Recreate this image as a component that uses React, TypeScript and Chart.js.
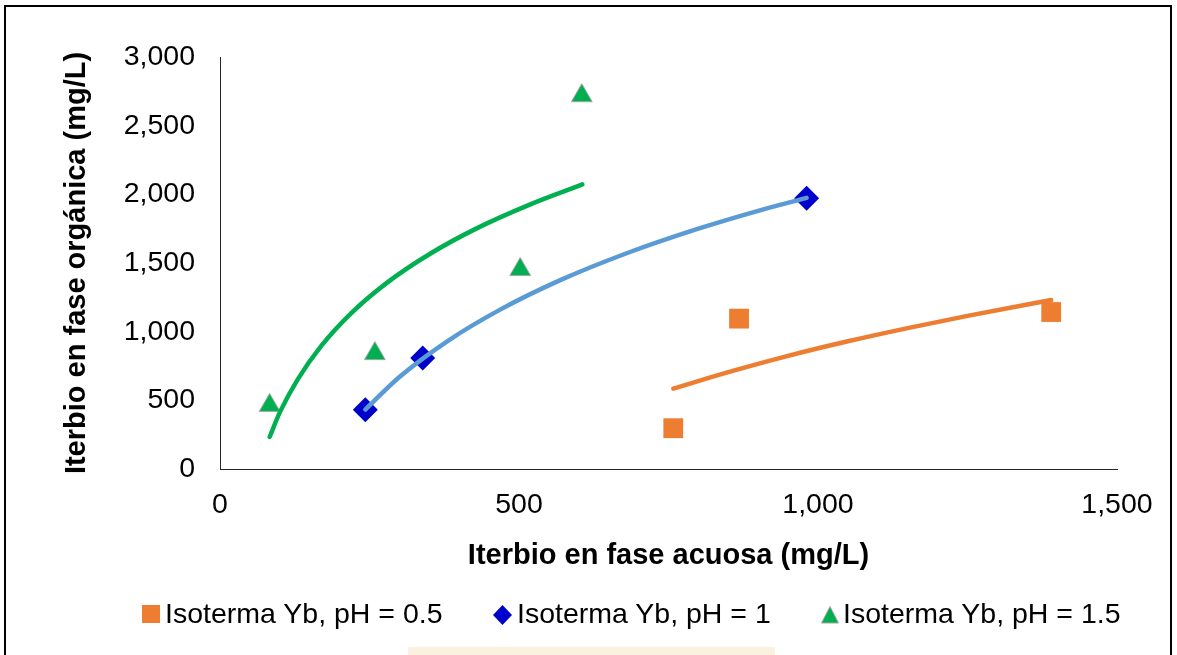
import React, { useEffect, useRef } from "react";
import { Chart, registerables } from "chart.js";

Chart.register(...registerables);

// ---- Data ----
const ph05X = [758, 868, 1390];
const ph05Y = [297, 1095, 1143];
const ph1X = [243, 339, 981];
const ph1Y = [432, 808, 1972];
const ph15X = [83, 259, 502, 605];
const ph15Y = [463, 840, 1452, 2718];

// Trend lines (logarithmic)
const trend05X = [758, 850, 950, 1050, 1150, 1250, 1390];
const trend05Y = [585, 705, 824, 930, 1026, 1115, 1230];
const trend1X = [243, 300, 380, 470, 570, 680, 800, 900, 981];
const trend1Y = [433, 670, 930, 1164, 1377, 1571, 1750, 1880, 1974];
const trend15X = [83, 100, 130, 170, 220, 280, 350, 430, 520, 606];
const trend15Y = [233, 412, 653, 900, 1137, 1359, 1564, 1754, 1929, 2072];

const seriesLabels = [
  "Isoterma Yb, pH = 0.5",
  "Isoterma Yb, pH = 1",
  "Isoterma Yb, pH = 1.5",
];
const xTitle = "Iterbio en fase acuosa (mg/L)";
const yTitle = "Iterbio en fase orgánica (mg/L)";
const xMin = 0, xMax = 1500, xStep = 500;
const yMin = 0, yMax = 3000, yStep = 500;

const ORANGE = "#ED7D31";
const BLUE = "#0000CC";
const LIGHTBLUE = "#5B9BD5";
const GREEN = "#00B050";
const FONT = "'Liberation Sans', Arial, sans-serif";

const pts = (xs: number[], ys: number[]) => xs.map((x, i) => ({ x, y: ys[i] }));
const fmt = (v: any) => Number(v).toLocaleString("en-US");

export default function App() {
  const ref = useRef<HTMLCanvasElement | null>(null);

  useEffect(() => {
    if (!ref.current) return;
    const trend = (xs: number[], ys: number[], color: string) => ({
      data: pts(xs, ys),
      showLine: true,
      pointRadius: 0,
      borderColor: color,
      backgroundColor: color,
      borderWidth: 4.5,
      borderCapStyle: "round" as const,
      cubicInterpolationMode: "monotone" as const,
      fill: false,
      order: 0,
    });
    const chart = new Chart(ref.current, {
      type: "scatter",
      data: {
        datasets: [
          trend(trend15X, trend15Y, GREEN),
          trend(trend1X, trend1Y, LIGHTBLUE),
          trend(trend05X, trend05Y, ORANGE),
          {
            label: seriesLabels[0],
            data: pts(ph05X, ph05Y),
            pointStyle: "rect",
            pointRadius: 14,
            backgroundColor: ORANGE,
            borderColor: ORANGE,
            borderWidth: 0,
            showLine: false,
            order: 1,
          },
          {
            label: seriesLabels[1],
            data: pts(ph1X, ph1Y),
            pointStyle: "rectRot",
            pointRadius: 12.5,
            backgroundColor: BLUE,
            borderColor: BLUE,
            borderWidth: 0,
            showLine: false,
            order: 1,
          },
          {
            label: seriesLabels[2],
            data: pts(ph15X, ph15Y),
            pointStyle: "triangle",
            pointRadius: 12,
            backgroundColor: GREEN,
            borderColor: "#A5A5A5",
            borderWidth: 1,
            showLine: false,
            order: 1,
          },
        ] as any,
      },
      options: {
        responsive: false,
        animation: false,
        events: [],
        layout: { padding: { top: 57, right: 60, bottom: 0, left: 0 } },
        plugins: { legend: { display: false }, tooltip: { enabled: false } },
        scales: {
          x: {
            type: "linear",
            min: xMin,
            max: xMax,
            ticks: {
              stepSize: xStep,
              padding: 19,
              color: "#000",
              font: { family: FONT, size: 28.5 },
              callback: fmt,
              maxRotation: 0,
            },
            grid: { display: false, drawTicks: false },
            border: { display: true, color: "#262626", width: 1 },
            title: {
              display: true,
              text: xTitle,
              color: "#000",
              font: { family: FONT, size: 29, weight: "bold" },
              padding: { top: 0, bottom: 82 },
            },
            afterFit: (s: any) => {
              s.height = 186;
            },
          },
          y: {
            type: "linear",
            min: yMin,
            max: yMax,
            ticks: {
              stepSize: yStep,
              padding: 25,
              color: "#000",
              font: { family: FONT, size: 28.5 },
              callback: fmt,
            },
            grid: { display: false, drawTicks: false },
            border: { display: true, color: "#262626", width: 1 },
            title: {
              display: true,
              text: yTitle,
              color: "#000",
              font: { family: FONT, size: 29, weight: "bold" },
              padding: { top: 60, bottom: 0 },
            },
            afterFit: (s: any) => {
              s.width = 220;
            },
          },
        },
      } as any,
    });
    return () => chart.destroy();
  }, []);

  const textStyle: React.CSSProperties = {
    position: "absolute",
    top: 598.5,
    fontFamily: FONT,
    fontSize: 28.5,
    lineHeight: "29px",
    color: "#000",
    whiteSpace: "nowrap",
  };

  return (
    <div
      style={{
        position: "fixed",
        left: 0,
        top: 0,
        width: 1177,
        height: 655,
        background: "#fff",
        overflow: "hidden",
      }}
    >
      <div
        style={{
          position: "absolute",
          left: 4,
          top: 5,
          width: 1168,
          height: 720,
          border: "2px solid #000",
          boxSizing: "border-box",
        }}
      />
      <canvas
        ref={ref}
        width={1177}
        height={655}
        style={{ position: "absolute", left: 0, top: 0, width: 1177, height: 655 }}
      />
      {/* Legend */}
      <div style={{ position: "absolute", left: 142, top: 605, width: 18, height: 18, background: ORANGE }} />
      <span style={{ ...textStyle, left: 165 }}>{seriesLabels[0]}</span>
      <svg style={{ position: "absolute", left: 493, top: 605 }} width={19} height={20}>
        <polygon points="9.5,0 19,10 9.5,20 0,10" fill={BLUE} />
      </svg>
      <span style={{ ...textStyle, left: 517 }}>{seriesLabels[1]}</span>
      <svg style={{ position: "absolute", left: 821, top: 606 }} width={18} height={18}>
        <polygon points="9,0.5 17.5,17 0.5,17" fill={GREEN} stroke="#A5A5A5" strokeWidth={1} />
      </svg>
      <span style={{ ...textStyle, left: 843 }}>{seriesLabels[2]}</span>
      <div
        style={{
          position: "absolute",
          left: 408,
          top: 647,
          width: 367,
          height: 10,
          background: "#FCF0DE",
        }}
      />
    </div>
  );
}
